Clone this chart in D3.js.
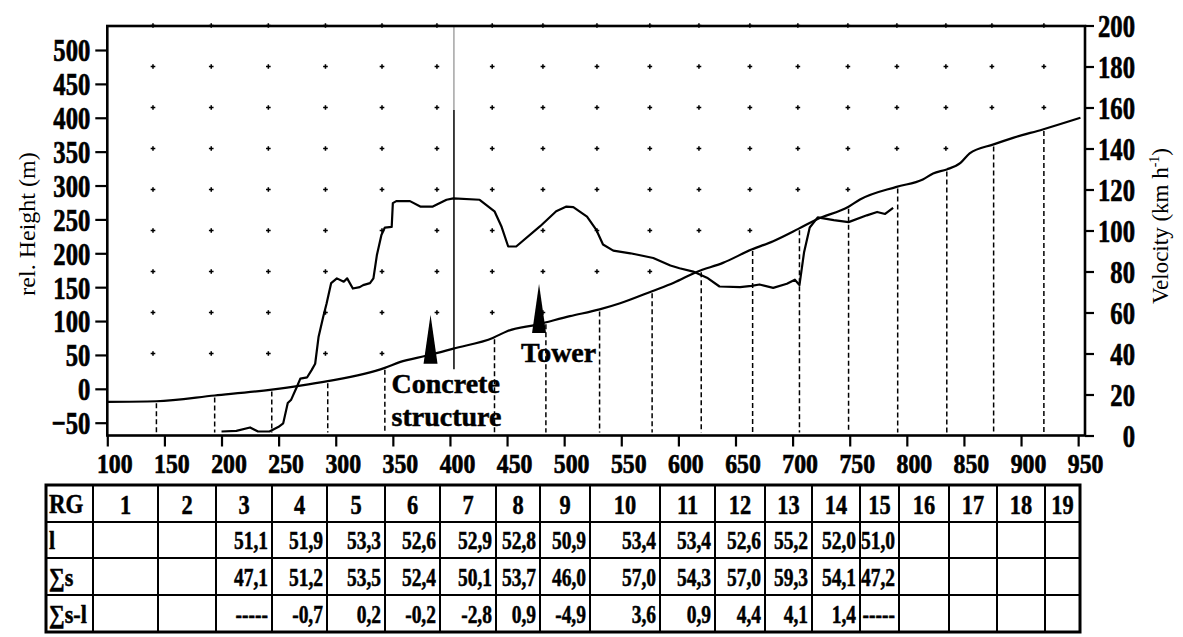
<!DOCTYPE html>
<html>
<head>
<meta charset="utf-8">
<script src="https://cdn.jsdelivr.net/npm/d3@7"></script>
<style>
body { margin: 0; background: #fff; }
svg { display: block; font-family: "Liberation Serif", "Times New Roman", serif; }
</style>
</head>
<body>
<div id="chart"></div>
<script>
// ---- data ----
var xTicks = [100, 150, 200, 250, 300, 350, 400, 450, 500, 550, 600, 650, 700, 750, 800, 850, 900, 950];
var heightTicks = [-50, 0, 50, 100, 150, 200, 250, 300, 350, 400, 450, 500];
var velTicks = [0, 20, 40, 60, 80, 100, 120, 140, 160, 180, 200];

// velocity (right axis, km/h) along the track
var velX = [100, 143, 194, 244, 269, 293, 343, 356, 380, 403, 438, 450, 476, 505, 531, 549, 577, 596, 616, 639,
            664, 683, 705, 721, 749, 759, 791, 814, 823, 835, 847, 855, 876, 893, 919, 952];
var velV = [16.4, 16.7, 19.5, 22.4, 24.3, 26.5, 33.0, 35.8, 39.0, 42.4, 47.7, 50.9, 54.1, 58.2, 61.5, 64.5, 70.4, 74.5, 79.8, 84.2,
            90.7, 94.8, 100.8, 105.4, 111.6, 115.1, 121.3, 124.9, 127.8, 129.8, 133.0, 137.6, 142.0, 145.2, 149.3, 155.0];

// relative height (left axis, m)
var hX = [200, 213, 225, 232, 242, 250, 254, 258, 261, 266, 269, 275, 279, 282, 285, 289, 292, 296, 301, 307,
          310, 315, 321, 324, 330, 333, 336, 340, 343, 349, 350, 353, 365, 374, 385, 397, 403, 426, 439, 445,
          451, 458, 479, 493, 502, 508, 520, 528, 534, 543, 558, 578, 593, 601, 613, 625, 636, 654, 664, 671,
          683, 695, 702, 706, 710, 715, 722, 736, 749, 765, 774, 781, 788];
var hV = [-63, -62, -57, -63, -63, -56, -51, -21, -16, 3, 15, 17, 28, 37, 77, 106, 126, 156, 163, 158,
          163, 148, 150, 153, 156, 163, 197, 227, 238, 239, 274, 277, 277, 269, 269, 279, 281, 279, 262, 240,
          210, 210, 240, 262, 269, 268, 254, 235, 213, 204, 200, 193, 182, 178, 173, 164, 151, 150, 152, 154,
          149, 155, 161, 153, 201, 238, 253, 249, 246, 256, 261, 258, 267];

// segment boundaries (dashed drop lines)
var segX = [143, 194, 244, 293, 343, 439, 484, 531, 577, 620, 665, 706, 749, 792, 835, 876, 920];

// grid of + marks: column position and lowest row shown (km/h)
var gridX = [140, 191, 241, 291, 340.5, 388.6, 437, 481.4, 528.7, 575, 618, 662.6, 704.6, 748.4, 791.3, 834.2, 874.5, 920];
var gridLow = [40, 40, 40, 40, 40, 60, 60, 60, 80, 80, 100, 100, 120, 120, 140, 140, 160, 160];
var gridRows = [40, 60, 80, 100, 120, 140, 160, 180, 200];

var markerNames = [["Concrete", "structure"], ["Tower"]];
var markerX = [383, 478];
var poleX = 403.5, poleBottom = 29;

// table
var rgCols = ["1", "2", "3", "4", "5", "6", "7", "8", "9", "10", "11", "12", "13", "14", "15", "16", "17", "18", "19"];
var rowL = ["", "", "51,1", "51,9", "53,3", "52,6", "52,9", "52,8", "50,9", "53,4", "53,4", "52,6", "55,2", "52,0", "51,0", "", "", "", ""];
var rowS = ["", "", "47,1", "51,2", "53,5", "52,4", "50,1", "53,7", "46,0", "57,0", "54,3", "57,0", "59,3", "54,1", "47,2", "", "", "", ""];
var rowD = ["", "", "-----", "-0,7", "0,2", "-0,2", "-2,8", "0,9", "-4,9", "3,6", "0,9", "4,4", "4,1", "1,4", "-----", "", "", "", ""];
var rowNames = ["l", "\u2211s", "\u2211s-l"];

// ---- layout ----
var width = 1183, height = 637;
var plotLeft = 107.3, plotRight = 1085, plotTop = 26, plotBottom = 435.5;

var svg = d3.select("#chart").append("svg")
    .attr("width", width)
    .attr("height", height);

var x = d3.scaleLinear().domain([100, 956]).range([plotLeft, plotRight]);
var yH = d3.scaleLinear().domain([-50, 500]).range([422.7, 50]);
var yV = d3.scaleLinear().domain([0, 200]).range([plotBottom, 25.5]);

function velAt(v) {
    var i = d3.bisectLeft(velX, v);
    if (i <= 0) return velV[0];
    if (i >= velX.length) return velV[velV.length - 1];
    var t = (v - velX[i - 1]) / (velX[i] - velX[i - 1]);
    return velV[i - 1] + t * (velV[i] - velV[i - 1]);
}

// + grid
var dots = [];
gridX.forEach(function (gx, i) {
    gridRows.forEach(function (r) {
        if (r >= gridLow[i]) dots.push([gx, r]);
    });
});
svg.append("g").selectAll("path")
    .data(dots)
    .enter()
    .append("path")
    .attr("d", d3.symbol(d3.symbolCross, 12))
    .attr("transform", function (d) { return "translate(" + x(d[0]) + "," + yV(d[1]) + ")"; })
    .style("fill", "#000");

// dashed drop lines
svg.append("g").selectAll("line")
    .data(segX)
    .enter()
    .append("line")
    .attr("x1", function (d) { return x(d); })
    .attr("x2", function (d) { return x(d); })
    .attr("y1", function (d) { return yV(velAt(d)) + 2; })
    .attr("y2", plotBottom - 3)
    .style("stroke", "#000")
    .style("stroke-width", 1.5)
    .style("stroke-dasharray", "5,3");

// thin pole line
svg.append("line")
    .attr("x1", x(poleX)).attr("x2", x(poleX))
    .attr("y1", plotTop).attr("y2", 110)
    .style("stroke", "#777").style("stroke-width", 1);
svg.append("line")
    .attr("x1", x(poleX)).attr("x2", x(poleX))
    .attr("y1", 110).attr("y2", yH(poleBottom))
    .style("stroke", "#000").style("stroke-width", 1.5);

// curves
var velLine = d3.line()
    .x(function (d, i) { return x(velX[i]); })
    .y(function (d) { return yV(d); })
    .curve(d3.curveMonotoneX);
svg.append("path")
    .attr("d", velLine(velV))
    .style("fill", "none").style("stroke", "#000").style("stroke-width", 2.2);

var hLine = d3.line()
    .x(function (d, i) { return x(hX[i]); })
    .y(function (d) { return yH(d); });
svg.append("path")
    .attr("d", hLine(hV))
    .style("fill", "none").style("stroke", "#000").style("stroke-width", 2.2)
    .style("stroke-linejoin", "round");

// markers
markerX.forEach(function (m, i) {
    var cx = x(m), cy = yV(velAt(m));
    svg.append("path")
        .attr("d", "M" + (cx - 7) + "," + (cy + 9) + "L" + cx + "," + (cy - 40) + "L" + (cx + 7) + "," + (cy + 9) + "Z")
        .style("fill", "#000");
    var dx = i === 0 ? -39 : -18;
    markerNames[i].forEach(function (t, j) {
        svg.append("text")
            .attr("x", cx + dx)
            .attr("y", cy + 38 + j * 33)
            .style("font-size", "28px")
            .style("font-weight", "bold")
            .style("stroke", "#000").style("stroke-width", 0.5)
            .text(t);
    });
});

// frame
svg.append("rect")
    .attr("x", plotLeft).attr("y", plotTop)
    .attr("width", plotRight - plotLeft).attr("height", plotBottom - plotTop)
    .style("fill", "none").style("stroke", "#000").style("stroke-width", 2.6);

// axes
function styleAxis(g) {
    g.select(".domain").remove();
    g.selectAll(".tick line").style("stroke", "#000").style("stroke-width", 2.2);
    g.selectAll("text").style("font-family", "Liberation Serif, Times New Roman, serif")
        .style("font-weight", "bold").style("fill", "#000")
        .style("stroke", "#000").style("stroke-width", 0.7);
}

var gl = svg.append("g")
    .attr("transform", "translate(" + plotLeft + ",0)")
    .call(d3.axisLeft(yH).tickValues(heightTicks).tickSize(12).tickSizeOuter(0));
styleAxis(gl);
gl.selectAll("text")
    .attr("x", 0).attr("dy", "0.34em")
    .attr("transform", "translate(-17,0) scale(0.77,1)")
    .style("font-size", "32px");

var gr = svg.append("g")
    .attr("transform", "translate(" + plotRight + ",0)")
    .call(d3.axisRight(yV).tickValues(velTicks).tickSize(9).tickSizeOuter(0));
styleAxis(gr);
gr.selectAll("text")
    .attr("x", 0).attr("dy", "0.34em")
    .attr("text-anchor", "end")
    .attr("transform", "translate(50,0) scale(0.77,1)")
    .style("font-size", "32px");

var gb = svg.append("g")
    .attr("transform", "translate(0," + plotBottom + ")")
    .call(d3.axisBottom(x).tickValues(xTicks).tickSize(11).tickSizeOuter(0));
styleAxis(gb);
gb.selectAll("text")
    .attr("y", 0).attr("dy", 0)
    .attr("transform", "translate(7,37) scale(0.88,1)")
    .style("font-size", "27px");

// axis titles
svg.append("text")
    .attr("transform", "translate(35,224) rotate(-90)")
    .attr("text-anchor", "middle")
    .style("font-size", "24px")
    .text("rel. Height (m)");

var vt = svg.append("text")
    .attr("transform", "translate(1168,226) rotate(-90)")
    .attr("text-anchor", "middle")
    .style("font-size", "23px");
vt.append("tspan").text("Velocity (km h");
vt.append("tspan").attr("dy", -9).style("font-size", "14px").text("-1");
vt.append("tspan").attr("dy", 9).text(")");

// ---- table ----
var colEdges = [46, 93, 158, 216, 272, 327, 385, 440, 496, 540, 590, 660, 715, 765, 812, 860, 899, 949, 997, 1045, 1080];
var rowEdges = [485, 522, 558, 595, 632];
var tab = svg.append("g");

rowEdges.slice(1, -1).forEach(function (ry) {
    tab.append("line").attr("x1", colEdges[0]).attr("x2", colEdges[colEdges.length - 1])
        .attr("y1", ry).attr("y2", ry).style("stroke", "#000").style("stroke-width", 2.2);
});
colEdges.slice(1, -1).forEach(function (cx) {
    tab.append("line").attr("x1", cx).attr("x2", cx)
        .attr("y1", rowEdges[0]).attr("y2", rowEdges[rowEdges.length - 1])
        .style("stroke", "#000").style("stroke-width", 2);
});
tab.append("rect")
    .attr("x", colEdges[0]).attr("y", rowEdges[0])
    .attr("width", colEdges[colEdges.length - 1] - colEdges[0])
    .attr("height", rowEdges[rowEdges.length - 1] - rowEdges[0])
    .style("fill", "none").style("stroke", "#000").style("stroke-width", 3);

function cellText(tx, ty, str, anchor, size, sx) {
    tab.append("text")
        .attr("transform", "translate(" + tx + "," + ty + ") scale(" + sx + ",1)")
        .attr("text-anchor", anchor)
        .style("font-size", size + "px")
        .style("font-weight", "bold")
        .style("stroke", "#000").style("stroke-width", 0.5)
        .text(str);
}

function midY(r) { return (rowEdges[r] + rowEdges[r + 1]) / 2 + 9; }

cellText(colEdges[0] + 3, midY(0), "RG", "start", 27, 0.85);
rgCols.forEach(function (c, i) {
    cellText((colEdges[i + 1] + colEdges[i + 2]) / 2, midY(0) + 1, c, "middle", 28, 0.8);
});

[rowL, rowS, rowD].forEach(function (row, r) {
    cellText(colEdges[0] + 3, midY(r + 1), rowNames[r], "start", 26, 0.85);
    row.forEach(function (v, i) {
        if (v) cellText(colEdges[i + 2] - 4, midY(r + 1), v, "end", 25, 0.78);
    });
});
</script>
</body>
</html>
